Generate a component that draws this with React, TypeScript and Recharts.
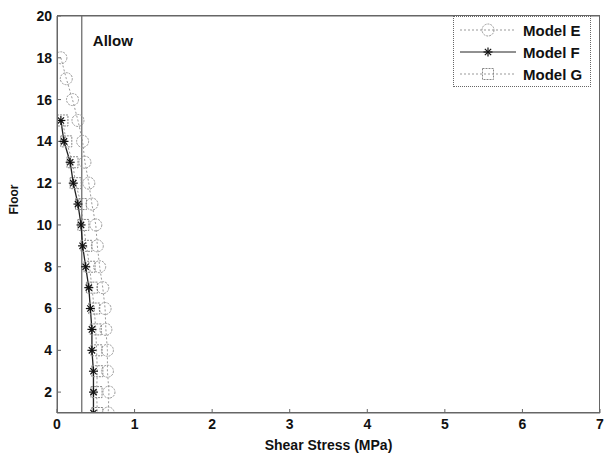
import React from 'react';
import {LineChart, Line, XAxis, YAxis, ReferenceLine} from 'recharts';

const floorsE = [18, 17, 16, 15, 14, 13, 12, 11, 10, 9, 8, 7, 6, 5, 4, 3, 2, 1];
const stressE = [0.05, 0.12, 0.2, 0.27, 0.33, 0.36, 0.41, 0.45, 0.5, 0.52, 0.55, 0.59, 0.62, 0.63, 0.65, 0.65, 0.67, 0.66];
const floorsFG = [15, 14, 13, 12, 11, 10, 9, 8, 7, 6, 5, 4, 3, 2, 1];
const stressF = [0.05, 0.09, 0.17, 0.21, 0.27, 0.31, 0.33, 0.37, 0.41, 0.43, 0.45, 0.45, 0.47, 0.47, 0.47];
const stressG = [0.07, 0.12, 0.2, 0.24, 0.31, 0.34, 0.38, 0.42, 0.45, 0.48, 0.5, 0.51, 0.52, 0.51, 0.52];
const allowStress = 0.32;
const xTicks = [0, 1, 2, 3, 4, 5, 6, 7];
const yTicks = [2, 4, 6, 8, 10, 12, 14, 16, 18, 20];
const seriesNames = ['Model E', 'Model F', 'Model G'];

const dataE = floorsE.map((f, i) => ({floor: f, stress: stressE[i]}));
const dataF = floorsFG.map((f, i) => ({floor: f, stress: stressF[i]}));
const dataG = floorsFG.map((f, i) => ({floor: f, stress: stressG[i]}));

const font = '"Liberation Sans", Arial, sans-serif';
const frame = '#666';

const Circle = (p: any) => (
  <circle key={p.key} cx={p.cx} cy={p.cy} r={6} fill="none" stroke="#999" strokeWidth={1} strokeDasharray="2 1" />
);
const Star = (p: any) => {
  const r = 4.5;
  const d = r * 0.7;
  return (
    <g key={p.key} stroke="#111" strokeWidth={1.2}>
      <line x1={p.cx - r} y1={p.cy} x2={p.cx + r} y2={p.cy} />
      <line x1={p.cx} y1={p.cy - r} x2={p.cx} y2={p.cy + r} />
      <line x1={p.cx - d} y1={p.cy - d} x2={p.cx + d} y2={p.cy + d} />
      <line x1={p.cx - d} y1={p.cy + d} x2={p.cx + d} y2={p.cy - d} />
    </g>
  );
};
const Square = (p: any) => (
  <rect key={p.key} x={p.cx - 5.5} y={p.cy - 5.5} width={11} height={11} fill="none" stroke="#888" strokeWidth={1} strokeDasharray="2 1" />
);

const markers = [Circle, Star, Square];
const lineStyles = [
  {stroke: '#999', dash: '2 2'},
  {stroke: '#222', dash: undefined},
  {stroke: '#999', dash: '2 2'},
];

const LegendBox = () => (
  <div style={{position: 'absolute', left: 453, top: 16, width: 138, height: 71, border: '1px dotted #666', background: '#fff', fontFamily: font, fontSize: 15, fontWeight: 'bold', color: '#111', boxSizing: 'border-box', paddingTop: 2}}>
    {seriesNames.map((name, i) => {
      const M = markers[i];
      return (
        <div key={name} style={{display: 'flex', alignItems: 'center', height: 22}}>
          <svg width={68} height={22}>
            <line x1={6} y1={11} x2={62} y2={11} stroke={lineStyles[i].stroke} strokeDasharray={lineStyles[i].dash} />
            <M cx={34} cy={11} />
          </svg>
          <span style={{marginLeft: 1}}>{name}</span>
        </div>
      );
    })}
  </div>
);

const AllowLabel = (props: any) => {
  const vb = props.viewBox;
  return (
    <text x={vb.x + 11} y={vb.y + 30} fontFamily={font} fontSize={15} fontWeight="bold" fill="#111">Allow</text>
  );
};

const tickStyle = {fontFamily: font, fontSize: 14, fontWeight: 'bold', fill: '#111'};

export default function App() {
  return (
    <div style={{position: 'absolute', left: 0, top: 0, width: 606, height: 455, background: '#fff'}}>
      <LineChart width={606} height={455} margin={{top: 15, right: 6, left: 0, bottom: 0}}>
        <XAxis
          type="number" dataKey="stress" domain={[0, 7]} ticks={xTicks} allowDataOverflow
          height={42} tickSize={-4} tickMargin={10} axisLine={{stroke: frame}} tickLine={{stroke: frame}}
          tick={tickStyle}
          label={{value: 'Shear Stress (MPa)', position: 'insideBottom', offset: 5, fontFamily: font, fontSize: 14, fontWeight: 'bold', fill: '#111'}}
        />
        <XAxis
          xAxisId="top" orientation="top" type="number" domain={[0, 7]} ticks={xTicks}
          height={1} tickSize={-4} tickFormatter={() => ''} axisLine={{stroke: frame}} tickLine={{stroke: frame}}
        />
        <YAxis
          type="number" dataKey="floor" domain={[1, 20]} ticks={yTicks} allowDataOverflow
          width={57} tickSize={-4} tickMargin={9} axisLine={{stroke: frame}} tickLine={{stroke: frame}}
          tick={tickStyle}
          label={{value: 'Floor', angle: -90, position: 'insideLeft', offset: 14, fontFamily: font, fontSize: 12, fontWeight: 'bold', fill: '#111'}}
        />
        <YAxis
          yAxisId="right" orientation="right" type="number" domain={[1, 20]} ticks={yTicks}
          width={0} tickSize={-4} tickFormatter={() => ''} axisLine={{stroke: frame}} tickLine={{stroke: frame}}
        />
        <ReferenceLine x={allowStress} stroke="#444" strokeWidth={1} label={AllowLabel} />
        <Line data={dataE} dataKey="floor" name={seriesNames[0]} stroke={lineStyles[0].stroke} strokeDasharray={lineStyles[0].dash} strokeWidth={1} dot={Circle} isAnimationActive={false} />
        <Line data={dataG} dataKey="floor" name={seriesNames[2]} stroke={lineStyles[2].stroke} strokeDasharray={lineStyles[2].dash} strokeWidth={1} dot={Square} isAnimationActive={false} />
        <Line data={dataF} dataKey="floor" name={seriesNames[1]} stroke={lineStyles[1].stroke} strokeWidth={1.3} dot={Star} isAnimationActive={false} />
      </LineChart>
      <div style={{position: 'absolute', left: 57, top: 15, width: 543, height: 398, border: `1px solid ${frame}`, boxSizing: 'border-box', pointerEvents: 'none'}} />
      <LegendBox />
    </div>
  );
}
